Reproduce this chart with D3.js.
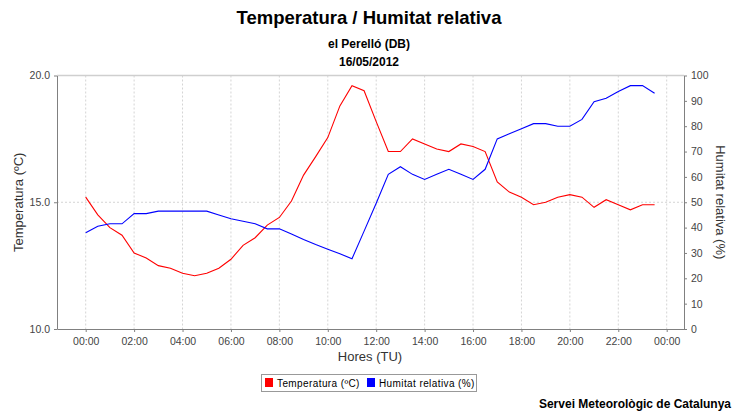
<!DOCTYPE html>
<html>
<head>
<meta charset="utf-8">
<script src="https://cdn.jsdelivr.net/npm/d3@7"></script>
<style>
  body { margin: 0; background: #fff; }
  svg { font-family: "Liberation Sans", Arial, sans-serif; }
</style>
</head>
<body>
<svg id="chart" width="744" height="413"></svg>
<script>
// half-hourly readings, 00:00 .. 23:30 (hours TU)
const hours = d3.range(48).map(i => i / 2);
const temperatura = [
  15.2, 14.5, 14.0, 13.7, 13.0, 12.8, 12.5, 12.4, 12.2, 12.1, 12.2, 12.4,
  12.75, 13.3, 13.6, 14.1, 14.4, 15.05, 16.07, 16.8, 17.55, 18.8, 19.6, 19.4,
  18.18, 17.0, 17.0, 17.5, 17.3, 17.1, 17.0, 17.3, 17.2, 17.0, 15.8, 15.4,
  15.2, 14.9, 15.0, 15.2, 15.3, 15.2, 14.8, 15.1, 14.9, 14.7, 14.9, 14.9
];
const humitat = [
  38, 40.5, 41.5, 41.5, 45.5, 45.5, 46.5, 46.5, 46.5, 46.5, 46.5, 45,
  43.5, 42.5, 41.5, 39.5, 39.5, 37.5, 35.3, 33.3, 31.5, 29.7, 27.7, 38.6,
  49.6, 61, 64, 61, 59, 61, 63, 61, 59, 63, 75, 77,
  79, 81, 81, 80, 80, 82.7, 89.7, 91, 93.7, 96, 96, 93
];
const tempTicks = [10, 15, 20];
const humTicks = d3.range(0, 101, 10);
const hourTicks = d3.range(0, 25, 2);

const svg = d3.select("#chart");
const plot = { left: 57, right: 684, top: 75.5, bottom: 329 };

const x = d3.scaleLinear().domain([0, 24]).range([85.7, 666.7]);
const yT = d3.scaleLinear().domain([10, 20]).range([plot.bottom, plot.top]);
const yH = d3.scaleLinear().domain([0, 100]).range([plot.bottom, plot.top]);

// titles
svg.append("text").attr("x", 369).attr("y", 24).attr("text-anchor", "middle")
  .attr("font-size", 18.5).attr("font-weight", "bold").text("Temperatura / Humitat relativa");
svg.append("text").attr("x", 369).attr("y", 48).attr("text-anchor", "middle")
  .attr("font-size", 12).attr("font-weight", "bold").text("el Perelló (DB)");
svg.append("text").attr("x", 369).attr("y", 66).attr("text-anchor", "middle")
  .attr("font-size", 12).attr("font-weight", "bold").text("16/05/2012");

// grid
const grid = svg.append("g").attr("stroke", "#d4d4d4").attr("stroke-dasharray", "2,2");
hourTicks.forEach(h => {
  grid.append("line").attr("x1", x(h)).attr("x2", x(h)).attr("y1", plot.top).attr("y2", plot.bottom);
});
tempTicks.filter(t => t > 10 && t < 20).forEach(t => {
  grid.append("line").attr("x1", plot.left).attr("x2", plot.right).attr("y1", yT(t)).attr("y2", yT(t));
});
svg.append("line").attr("x1", plot.left).attr("x2", plot.right)
  .attr("y1", plot.top).attr("y2", plot.top).attr("stroke", "#cfcfcf").attr("stroke-width", 1.5);

// axes
function styleAxis(sel) {
  sel.select(".domain").attr("stroke", "#808080");
  sel.selectAll(".tick line").attr("stroke", "#808080");
  sel.selectAll(".tick text").attr("fill", "#444").attr("font-size", 10.5)
    .attr("font-family", "Liberation Sans, Arial, sans-serif");
}
const xAx = svg.append("g").attr("transform", `translate(0,${plot.bottom})`)
  .call(d3.axisBottom(x.copy().domain([x.invert(plot.left), x.invert(plot.right)]).range([plot.left, plot.right]))
    .tickValues(hourTicks).tickSize(3).tickPadding(6).tickSizeOuter(0)
    .tickFormat(h => String(h % 24).padStart(2, "0") + ":00"));
styleAxis(xAx);

const yAxL = svg.append("g").attr("transform", `translate(${plot.left},0)`)
  .call(d3.axisLeft(yT).tickValues(tempTicks).tickSize(3).tickPadding(4).tickSizeOuter(0)
    .tickFormat(d3.format(".1f")));
styleAxis(yAxL);

const yAxR = svg.append("g").attr("transform", `translate(${plot.right},0)`)
  .call(d3.axisRight(yH).tickValues(humTicks).tickSize(3).tickPadding(4).tickSizeOuter(0));
styleAxis(yAxR);

// axis labels
svg.append("text").attr("transform", `translate(23,${(plot.top + plot.bottom) / 2}) rotate(-90)`)
  .attr("text-anchor", "middle").attr("font-size", 13).attr("fill", "#333").text("Temperatura (ºC)");
svg.append("text").attr("transform", `translate(716,${(plot.top + plot.bottom) / 2}) rotate(90)`)
  .attr("text-anchor", "middle").attr("font-size", 13).attr("fill", "#333").text("Humitat relativa (%)");
svg.append("text").attr("x", 370).attr("y", 361).attr("text-anchor", "middle")
  .attr("font-size", 13).attr("fill", "#333").text("Hores (TU)");

// series
const lineT = d3.line().x((d, i) => x(hours[i])).y(d => yT(d));
const lineH = d3.line().x((d, i) => x(hours[i])).y(d => yH(d));
svg.append("path").datum(temperatura).attr("d", lineT)
  .attr("fill", "none").attr("stroke", "#ff0000").attr("stroke-width", 1.1);
svg.append("path").datum(humitat).attr("d", lineH)
  .attr("fill", "none").attr("stroke", "#0000ff").attr("stroke-width", 1.1);

// legend
const lg = svg.append("g");
lg.append("rect").attr("x", 261.5).attr("y", 374.5).attr("width", 215).attr("height", 17)
  .attr("fill", "#fff").attr("stroke", "#999");
const items = [
  { label: "Temperatura (ºC)", color: "#ff0000", x: 265 },
  { label: "Humitat relativa (%)", color: "#0000ff", x: 367 }
];
items.forEach(it => {
  lg.append("rect").attr("x", it.x).attr("y", 378).attr("width", 8).attr("height", 9).attr("fill", it.color);
  lg.append("text").attr("x", it.x + 12).attr("y", 386.5).attr("font-size", 10)
    .attr("letter-spacing", 0.4).attr("fill", "#000").text(it.label);
});

// footer
svg.append("text").attr("x", 731).attr("y", 408).attr("text-anchor", "end")
  .attr("font-size", 12).attr("font-weight", "bold").text("Servei Meteorològic de Catalunya");
</script>
</body>
</html>
